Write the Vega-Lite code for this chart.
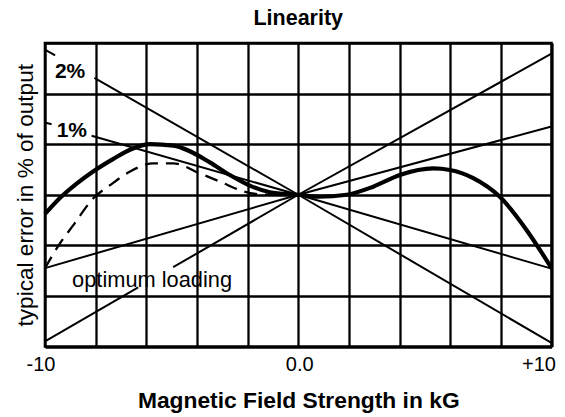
{
  "$schema": "https://vega.github.io/schema/vega-lite/v6.json",
  "width": 506.5,
  "height": 303.5,
  "autosize": {"type": "none"},
  "padding": {"left": 45, "top": 43, "right": 13.5, "bottom": 70.5},
  "config": {
    "font": "Liberation Sans",
    "view": {"stroke": "black", "strokeWidth": 2.6},
    "background": "white"
  },
  "title": {"text": "Linearity", "fontSize": 21.5, "fontWeight": "bold", "color": "black", "anchor": "middle", "offset": 14},
  "datasets": {
    "lines": [
      {"s": "A1", "x": -10, "y": 2.87}, {"s": "A1", "x": -9.6, "y": 2.755},
      {"s": "A2", "x": -8.05, "y": 2.31}, {"s": "A2", "x": 0, "y": 0}, {"s": "A2", "x": 10, "y": -2.93},
      {"s": "B1", "x": -10, "y": 1.43}, {"s": "B1", "x": -9.74, "y": 1.393},
      {"s": "B2", "x": -8.16, "y": 1.167}, {"s": "B2", "x": 0, "y": 0}, {"s": "B2", "x": 10, "y": -1.46},
      {"s": "C1", "x": -10, "y": -2.9}, {"s": "C1", "x": -6.32, "y": -1.833},
      {"s": "C2", "x": -4.94, "y": -1.433}, {"s": "C2", "x": 0, "y": 0}, {"s": "C2", "x": 10, "y": 2.79},
      {"s": "D", "x": -10, "y": -1.45}, {"s": "D", "x": 0, "y": 0}, {"s": "D", "x": 10, "y": 1.35}
    ],
    "thick": [
      {"x": -10, "y": -0.38}, {"x": -9.4, "y": -0.06}, {"x": -8.75, "y": 0.22}, {"x": -8.1, "y": 0.46},
      {"x": -7.3, "y": 0.71}, {"x": -6.6, "y": 0.9}, {"x": -5.85, "y": 1.0}, {"x": -4.93, "y": 0.97},
      {"x": -4.28, "y": 0.86}, {"x": -3.49, "y": 0.64}, {"x": -2.7, "y": 0.39}, {"x": -1.91, "y": 0.18},
      {"x": -1.12, "y": 0.05}, {"x": 0, "y": 0}, {"x": 0.8, "y": -0.04}, {"x": 1.91, "y": 0.0},
      {"x": 2.96, "y": 0.16}, {"x": 4.01, "y": 0.39}, {"x": 5.33, "y": 0.52}, {"x": 5.99, "y": 0.49},
      {"x": 6.91, "y": 0.33}, {"x": 7.96, "y": -0.04}, {"x": 9.02, "y": -0.7}, {"x": 10, "y": -1.45}
    ],
    "dashed": [
      {"x": -10, "y": -1.45}, {"x": -9.41, "y": -0.96}, {"x": -8.88, "y": -0.6}, {"x": -8.09, "y": -0.07},
      {"x": -7.43, "y": 0.19}, {"x": -6.64, "y": 0.46}, {"x": -5.72, "y": 0.62}, {"x": -4.93, "y": 0.62},
      {"x": -3.88, "y": 0.42}, {"x": -3.09, "y": 0.26}, {"x": -2.18, "y": 0.07}, {"x": -1.25, "y": 0.0},
      {"x": 0, "y": 0}
    ],
    "boldlabels": [
      {"label": "2%", "x": -9.61, "y": 2.31},
      {"label": "1%", "x": -9.54, "y": 1.14}
    ],
    "note": [
      {"label": "optimum loading", "x": -8.93, "y": -1.82}
    ]
  },
  "encoding": {
    "x": {
      "field": "x", "type": "quantitative",
      "scale": {"domain": [-10, 10], "nice": false, "zero": false},
      "axis": {
        "values": [-10, -8, -6, -4, -2, 0, 2, 4, 6, 8, 10],
        "grid": true, "gridColor": "black", "gridWidth": 2.3, "gridOpacity": 1,
        "domain": false, "ticks": false,
        "labelExpr": "datum.value == -10 ? '-10' : datum.value == 0 ? '0.0' : datum.value == 10 ? '+10' : ''",
        "labelOverlap": false, "labelFlush": false, "labelAlign": "center",
        "labelFontSize": 20, "labelColor": "black", "labelPadding": 8,
        "labelOffset": {"condition": [{"test": "datum.value == -10", "value": -4.5}, {"test": "datum.value == 10", "value": -13}], "value": 1},
        "title": "Magnetic Field Strength in kG",
        "titleFontSize": 22.8, "titleFontWeight": "bold", "titleColor": "black", "titlePadding": 15
      }
    },
    "y": {
      "field": "y", "type": "quantitative",
      "scale": {"domain": [-3, 3], "nice": false, "zero": false},
      "axis": {
        "values": [-3, -2, -1, 0, 1, 2, 3],
        "grid": true, "gridColor": "black", "gridWidth": 2.3, "gridOpacity": 1,
        "domain": false, "ticks": false, "labels": false,
        "title": "typical error in % of output",
        "titleFontSize": 22.6, "titleFontWeight": "normal", "titleColor": "black", "titlePadding": 8
      }
    }
  },
  "layer": [
    {
      "data": {"name": "lines"},
      "mark": {"type": "line", "color": "black", "strokeWidth": 2},
      "encoding": {"detail": {"field": "s"}}
    },
    {
      "data": {"name": "thick"},
      "mark": {"type": "line", "color": "black", "strokeWidth": 4.2, "interpolate": "monotone"},
      "encoding": {}
    },
    {
      "data": {"name": "dashed"},
      "mark": {"type": "line", "color": "black", "strokeWidth": 2.3, "strokeDash": [13, 8], "interpolate": "monotone"},
      "encoding": {}
    },
    {
      "data": {"name": "boldlabels"},
      "mark": {"type": "text", "align": "left", "baseline": "alphabetic", "fontSize": 21, "fontWeight": "bold", "color": "black"},
      "encoding": {"text": {"field": "label"}}
    },
    {
      "data": {"name": "note"},
      "mark": {"type": "text", "align": "left", "baseline": "alphabetic", "fontSize": 21.8, "color": "black"},
      "encoding": {"text": {"field": "label"}}
    }
  ]
}
